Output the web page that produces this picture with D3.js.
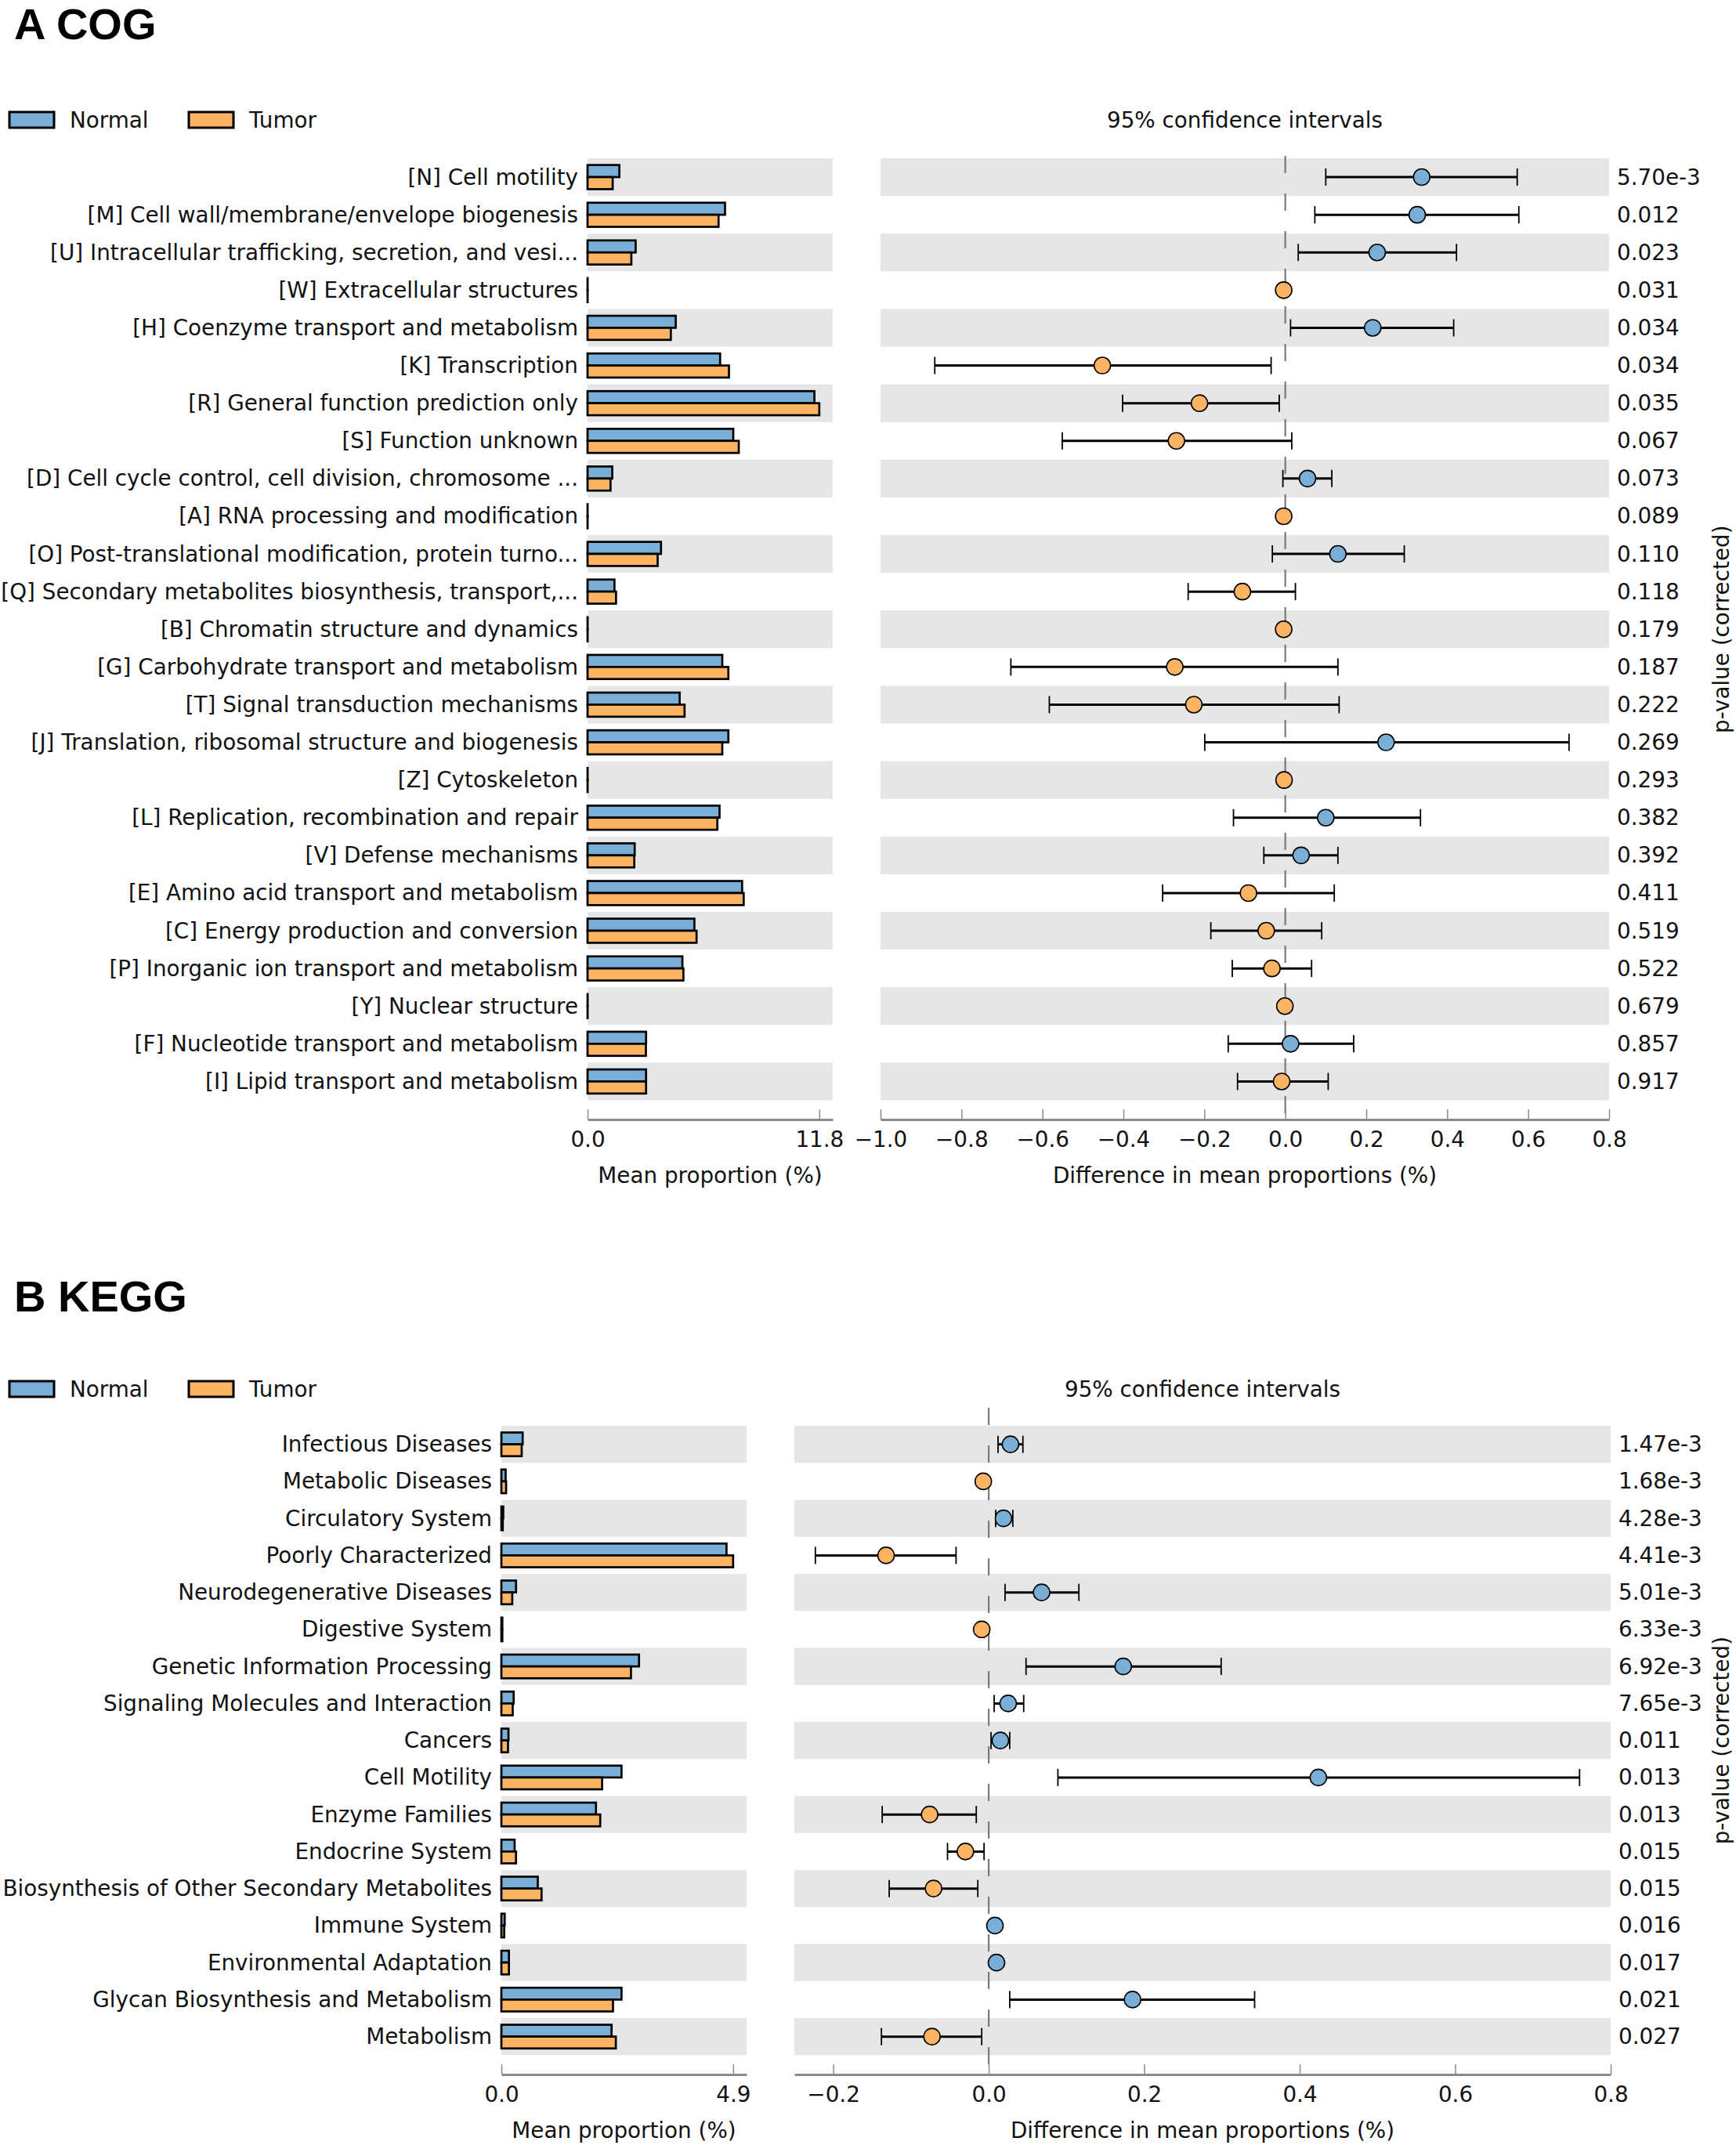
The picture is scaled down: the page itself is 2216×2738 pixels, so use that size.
<!DOCTYPE html>
<html><head><meta charset="utf-8">
<script src="https://cdn.jsdelivr.net/npm/d3@7"></script>
<style>
body{margin:0;background:#fff}
svg text{font-family:"DejaVu Sans",sans-serif;fill:#111}
</style>
</head><body>
<svg id="chart" width="2216" height="2738"></svg>
<script>
// ---------- DATA: Panel A (COG) ----------
const cogCategories = [
"[N] Cell motility",
"[M] Cell wall/membrane/envelope biogenesis",
"[U] Intracellular trafficking, secretion, and vesi...",
"[W] Extracellular structures",
"[H] Coenzyme transport and metabolism",
"[K] Transcription",
"[R] General function prediction only",
"[S] Function unknown",
"[D] Cell cycle control, cell division, chromosome ...",
"[A] RNA processing and modification",
"[O] Post-translational modification, protein turno...",
"[Q] Secondary metabolites biosynthesis, transport,...",
"[B] Chromatin structure and dynamics",
"[G] Carbohydrate transport and metabolism",
"[T] Signal transduction mechanisms",
"[J] Translation, ribosomal structure and biogenesis",
"[Z] Cytoskeleton",
"[L] Replication, recombination and repair",
"[V] Defense mechanisms",
"[E] Amino acid transport and metabolism",
"[C] Energy production and conversion",
"[P] Inorganic ion transport and metabolism",
"[Y] Nuclear structure",
"[F] Nucleotide transport and metabolism",
"[I] Lipid transport and metabolism"];
const cogNormal = [1.62,7.00,2.45,0.004,4.49,6.75,11.55,7.42,1.26,0.004,3.74,1.37,0.004,6.86,4.69,7.17,0.004,6.72,2.40,7.87,5.44,4.83,0.004,2.98,2.98];
const cogTumor  = [1.28,6.67,2.23,0.004,4.24,7.20,11.80,7.70,1.17,0.004,3.57,1.45,0.004,7.17,4.94,6.86,0.004,6.61,2.38,7.95,5.55,4.88,0.004,2.97,2.98];
const cogDiff = [0.337,0.326,0.227,-0.004,0.216,-0.452,-0.212,-0.269,0.055,-0.004,0.130,-0.106,-0.004,-0.273,-0.226,0.249,-0.003,0.100,0.039,-0.091,-0.047,-0.033,-0.001,0.013,-0.009];
const cogLow  = [0.100,0.073,0.032,-0.006,0.013,-0.866,-0.402,-0.551,-0.006,-0.006,-0.032,-0.240,-0.006,-0.678,-0.583,-0.199,-0.005,-0.128,-0.053,-0.303,-0.184,-0.131,-0.002,-0.141,-0.118];
const cogHigh = [0.573,0.577,0.423,-0.002,0.416,-0.035,-0.015,0.016,0.115,-0.002,0.294,0.025,-0.002,0.130,0.133,0.701,-0.001,0.334,0.130,0.121,0.090,0.065,0.001,0.169,0.106];
const cogPvals = ["5.70e-3","0.012","0.023","0.031","0.034","0.034","0.035","0.067","0.073","0.089","0.110","0.118","0.179","0.187","0.222","0.269","0.293","0.382","0.392","0.411","0.519","0.522","0.679","0.857","0.917"];
const cogBarTicks = [0, 11.8];
const cogDiffTicks = [-1.0,-0.8,-0.6,-0.4,-0.2,0.0,0.2,0.4,0.6,0.8];

// ---------- DATA: Panel B (KEGG) ----------
const keggCategories = ["Infectious Diseases","Metabolic Diseases","Circulatory System","Poorly Characterized","Neurodegenerative Diseases","Digestive System","Genetic Information Processing","Signaling Molecules and Interaction","Cancers","Cell Motility","Enzyme Families","Endocrine System","Biosynthesis of Other Secondary Metabolites","Immune System","Environmental Adaptation","Glycan Biosynthesis and Metabolism","Metabolism"];
const keggNormal = [0.45,0.09,0.04,4.76,0.31,0.02,2.91,0.26,0.15,2.54,2.00,0.28,0.77,0.07,0.16,2.54,2.33];
const keggTumor  = [0.43,0.10,0.03,4.90,0.23,0.02,2.74,0.24,0.14,2.13,2.09,0.31,0.85,0.06,0.16,2.36,2.42];
const keggDiff = [0.028,-0.007,0.019,-0.132,0.068,-0.009,0.173,0.025,0.015,0.424,-0.076,-0.030,-0.071,0.008,0.010,0.185,-0.073];
const keggLow  = [0.012,-0.010,0.009,-0.223,0.021,-0.012,0.048,0.007,0.003,0.089,-0.137,-0.053,-0.128,0.006,0.008,0.027,-0.138];
const keggHigh = [0.044,-0.004,0.031,-0.042,0.116,-0.006,0.299,0.045,0.027,0.760,-0.016,-0.006,-0.014,0.010,0.012,0.342,-0.009];
const keggPvals = ["1.47e-3","1.68e-3","4.28e-3","4.41e-3","5.01e-3","6.33e-3","6.92e-3","7.65e-3","0.011","0.013","0.013","0.015","0.015","0.016","0.017","0.021","0.027"];
const keggBarTicks = [0, 4.9];
const keggDiffTicks = [-0.2,0.0,0.2,0.4,0.6,0.8];

const groupNames = ["Normal","Tumor"];
const groupColors = ["#79AED6","#FCB462"];

// ---------- LAYOUT ----------
const panels = [
  {title:"A COG", titleY:50, legendY:153, rowTop:202, pitch:48.1,
   barX0:750, barX1:1063, barTicks:cogBarTicks,
   diffX0:1124, diffX1:2054, diffDomain:[-1.0,0.8], diffTicks:cogDiffTicks,
   axisY:1429, zeroTop:199,
   cats:cogCategories, normal:cogNormal, tumor:cogTumor, diff:cogDiff, low:cogLow, high:cogHigh, pvals:cogPvals},
  {title:"B KEGG", titleY:1674, legendY:1773, rowTop:1820, pitch:47.25,
   barX0:640, barX1:953, barTicks:keggBarTicks,
   diffX0:1014, diffX1:2056, diffDomain:[-0.25,0.8], diffTicks:keggDiffTicks,
   axisY:2648, zeroTop:1797,
   cats:keggCategories, normal:keggNormal, tumor:keggTumor, diff:keggDiff, low:keggLow, high:keggHigh, pvals:keggPvals}
];

const svg = d3.select("#chart");
const FS = 27.8;
const AXIS_GREY = "#8a8a8a";

panels.forEach(p => {
  const g = svg.append("g");
  const n = p.cats.length;
  // title
  g.append("text").attr("x",18).attr("y",p.titleY)
    .style("font-family","'Liberation Sans',Arial,sans-serif").style("font-weight","bold")
    .style("font-size","56px").style("fill","#000").text(p.title);
  // legend
  const legX = [12, 241];
  groupNames.forEach((nm,i) => {
    g.append("rect").attr("x",legX[i]).attr("y",p.legendY-10).attr("width",57).attr("height",20)
      .attr("fill",groupColors[i]).attr("stroke","#000").attr("stroke-width",3);
    g.append("text").attr("x",legX[i]+77).attr("y",p.legendY).attr("dominant-baseline","central")
      .style("font-size",FS+"px").text(nm);
  });

  const y = d3.scaleBand().domain(p.cats).range([p.rowTop, p.rowTop + n*p.pitch]).padding(0);
  const bw = y.bandwidth();
  const cy = c => y(c) + bw/2;
  const xBar = d3.scaleLinear().domain([0, p.barTicks[1]*1.058]).range([p.barX0, p.barX1]);
  const xDiff = d3.scaleLinear().domain(p.diffDomain).range([p.diffX0, p.diffX1]);

  // background bands
  p.cats.forEach((c,i) => {
    if (i % 2 === 0) {
      g.append("rect").attr("x",p.barX0).attr("y",y(c)).attr("width",p.barX1-p.barX0).attr("height",bw).attr("fill","#e6e6e6");
      g.append("rect").attr("x",p.diffX0).attr("y",y(c)).attr("width",p.diffX1-p.diffX0).attr("height",bw).attr("fill","#e6e6e6");
    }
  });

  // header
  g.append("text").attr("x",(p.diffX0+p.diffX1)/2).attr("y",p.legendY).attr("text-anchor","middle")
    .attr("dominant-baseline","central").style("font-size",FS+"px").text("95% confidence intervals");

  // category labels
  p.cats.forEach(c => {
    g.append("text").attr("x",p.barX0-12).attr("y",cy(c)).attr("text-anchor","end")
      .attr("dominant-baseline","central").style("font-size",FS+"px").text(c);
  });

  // bars
  const bh = bw*0.32;
  [p.normal, p.tumor].forEach((vals,gi) => {
    g.selectAll(null).data(p.cats).enter().append("rect")
      .attr("x", xBar(0))
      .attr("y", c => gi===0 ? cy(c)-bh : cy(c))
      .attr("width", (c,i) => Math.max(0.1, xBar(vals[i]) - xBar(0)))
      .attr("height", bh)
      .attr("fill", groupColors[gi]).attr("stroke","#000").attr("stroke-width",2.7);
  });

  // zero dashed line
  g.append("line").attr("x1",xDiff(0)).attr("x2",xDiff(0)).attr("y1",p.zeroTop).attr("y2",p.axisY)
    .attr("stroke","#7a7a7a").attr("stroke-width",2.2).attr("stroke-dasharray","22,26");

  // error bars
  p.cats.forEach((c,i) => {
    const yy = cy(c);
    g.append("line").attr("x1",xDiff(p.low[i])).attr("x2",xDiff(p.high[i])).attr("y1",yy).attr("y2",yy)
      .attr("stroke","#000").attr("stroke-width",3);
    [p.low[i], p.high[i]].forEach(v => {
      g.append("line").attr("x1",xDiff(v)).attr("x2",xDiff(v)).attr("y1",yy-11).attr("y2",yy+11)
        .attr("stroke","#000").attr("stroke-width",1.8);
    });
  });
  // markers
  g.selectAll(null).data(p.cats).enter().append("circle")
    .attr("cx",(c,i) => xDiff(p.diff[i])).attr("cy", c => cy(c)).attr("r",10.5)
    .attr("fill",(c,i) => p.diff[i] > 0 ? groupColors[0] : groupColors[1])
    .attr("stroke","#000").attr("stroke-width",1.6);

  // p-values
  p.cats.forEach((c,i) => {
    g.append("text").attr("x",p.diffX1+10).attr("y",cy(c)).attr("dominant-baseline","central")
      .style("font-size",FS+"px").text(p.pvals[i]);
  });
  const midY = p.rowTop + n*p.pitch/2;
  g.append("text").attr("transform",`translate(2197,${midY}) rotate(-90)`).attr("text-anchor","middle")
    .attr("dominant-baseline","central").style("font-size",FS+"px").text("p-value (corrected)");

  // axes
  const fmt = d3.format(".1f");
  const styleAxis = sel => {
    sel.select(".domain").attr("stroke",AXIS_GREY).attr("stroke-width",3.2);
    sel.selectAll(".tick line").attr("stroke",AXIS_GREY).attr("stroke-width",1.5);
    sel.selectAll(".tick text").style("font-size",FS+"px").style("font-family","'DejaVu Sans',sans-serif").attr("fill","#111");
  };
  const axBar = d3.axisBottom(xBar).tickValues(p.barTicks).tickFormat(fmt).tickSizeInner(-13).tickSizeOuter(0).tickPadding(15);
  g.append("g").attr("transform",`translate(0,${p.axisY})`).call(axBar).call(styleAxis);
  const axDiff = d3.axisBottom(xDiff).tickValues(p.diffTicks).tickFormat(fmt).tickSizeInner(-13).tickSizeOuter(0).tickPadding(15);
  g.append("g").attr("transform",`translate(0,${p.axisY})`).call(axDiff).call(styleAxis);

  g.append("text").attr("x",(p.barX0+p.barX1)/2).attr("y",p.axisY+71).attr("text-anchor","middle")
    .attr("dominant-baseline","central").style("font-size",FS+"px").text("Mean proportion (%)");
  g.append("text").attr("x",(p.diffX0+p.diffX1)/2).attr("y",p.axisY+71).attr("text-anchor","middle")
    .attr("dominant-baseline","central").style("font-size",FS+"px").text("Difference in mean proportions (%)");
});
</script>
</body></html>
